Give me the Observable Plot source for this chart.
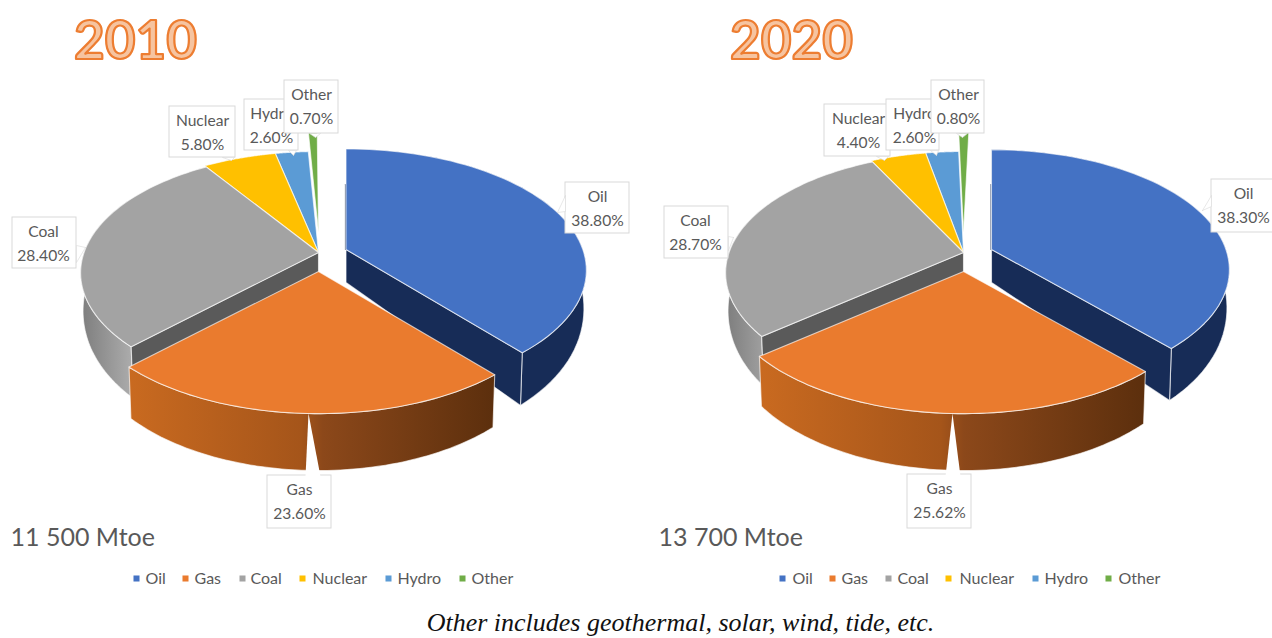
<!DOCTYPE html>
<html>
<head>
<meta charset="utf-8">
<script src="https://cdn.jsdelivr.net/npm/d3@7"></script>
<script src="https://cdn.jsdelivr.net/npm/@observablehq/plot@0.6"></script>
<style>
  html, body { margin: 0; padding: 0; background: #fff; }
  svg { display: block; }
</style>
</head>
<body>
<div id="chart"></div>
<script>
// Primary energy mix, share of world supply by source (%)
const categories = ["Oil", "Gas", "Coal", "Nuclear", "Hydro", "Other"];
const share2010 = [38.8, 23.6, 28.4, 5.8, 2.6, 0.7];
const share2020 = [38.3, 25.62, 28.7, 4.4, 2.6, 0.8];
const years = ["2010", "2020"];
const totals = ["11 500 Mtoe", "13 700 Mtoe"];
const footnote = "Other includes geothermal, solar, wind, tide, etc.";

const topColors = { Oil: "#4472c4", Gas: "#ea7b2e", Coal: "#a3a3a3", Nuclear: "#ffc000", Hydro: "#5b9bd5", Other: "#70ad47" };
const FONT = "Lato, 'Open Sans', sans-serif";
const INK = "#595959";

// Tilted-disc camera: radius, flattening and perspective strength
const R = 238, RY = 118.4, P = 0.172;

// Per-panel layout: disc centre, slice offsets and radii, label boxes [x1, y1, x2, y2, textX], callout tips
const panels = [
  {
    values: share2010, year: 0, cx: 318, cy: 252, titleX: 135, totalX: 10,
    offset: { Oil: [27.5, -3], Gas: [0, 19], Other: [0, -20] },
    radius: { Oil: 0.995, Gas: 0.995, Coal: 0.985 },
    legend: { squares: [136, 185, 242, 302, 388, 462], texts: [145, 194, 250, 312, 397, 471] },
    labels: {
      Oil: [565, 182, 629, 233, 597], Gas: [267, 475, 331, 528, 299], Coal: [12, 217, 76, 268, 43],
      Nuclear: [169, 106, 235, 157, 202], Hydro: [244, 99, 298, 150, 271], Other: [284, 80, 338, 133, 311]
    },
    tips: {
      Oil: [[557, 212], [565, 195], [565, 211]], Gas: [[308, 413], [305, 476], [320, 476]], Coal: [[85, 247], [76, 245], [76, 262]],
      Nuclear: [[231, 160], [222, 157], [234, 157]], Hydro: [[293, 155], [288, 150], [296, 150]], Other: [[315, 137], [309, 133], [320, 133]]
    }
  },
  {
    values: share2020, year: 1, cx: 963, cy: 252, titleX: 791, totalX: 658,
    offset: { Oil: [28, -3], Gas: [0, 19], Other: [0, -20] },
    radius: { Oil: 0.985, Gas: 0.995, Coal: 0.985 },
    legend: { squares: [782, 832, 888, 948, 1035, 1108], texts: [792, 841, 897, 959, 1044, 1118] },
    labels: {
      Oil: [1211, 179, 1276, 232, 1243], Gas: [907, 474, 971, 528, 939], Coal: [664, 206, 728, 258, 695],
      Nuclear: [824, 104, 890, 156, 858], Hydro: [886, 99, 939, 150, 914], Other: [931, 80, 984, 133, 958]
    },
    tips: {
      Oil: [[1202, 210], [1211, 195], [1211, 206]], Gas: [[952, 413], [945, 476], [960, 476]], Coal: [[733, 237], [728, 236], [728, 250]],
      Nuclear: [[884, 160], [876, 156], [888, 156]], Hydro: [[936, 155], [930, 150], [938, 150]], Other: [[962, 137], [956, 133], [967, 133]]
    }
  }
];

// Rim height grows toward the viewer
const rimHeight = Y => { const t = Math.max(0, Y); return 33 + 32 * t - 8 * t * t; };

// Project an angle (degrees clockwise from the top) and radius fraction onto the page
function project(cx, cy, deg, radius, drop) {
  const a = deg * Math.PI / 180;
  const X = Math.sin(a) * radius, Y = -Math.cos(a) * radius;
  const s = 1 / (1 - P * Y);
  const z = drop ? rimHeight(Y) : 0;
  const squeeze = drop ? 0.99 : 1;
  return [cx + R * X * s * squeeze, cy + RY * Y * s + z];
}

const arc = (s, a0, a1, drop) =>
  d3.range(65).map(i => project(s.cx, s.cy, a0 + (a1 - a0) * i / 64, s.r, drop));

const polygon = (points, options) =>
  Plot.line([...points, points[0]], {
    x: d => d[0], y: d => d[1], curve: "linear", strokeLinejoin: "round", ...options
  });

// Gradient paints for the lit rims
function gradientDefs() {
  const defs = d3.create("svg:defs");
  const add = (id, stops) => {
    const g = defs.append("linearGradient").attr("id", id).attr("x1", 0).attr("x2", 1).attr("y1", 0).attr("y2", 0);
    stops.forEach(([o, c]) => g.append("stop").attr("offset", o).attr("stop-color", c));
  };
  add("gasRim", [[0, "#c96a20"], [0.47, "#a5551a"], [0.53, "#8c481a"], [1, "#5c2f0d"]]);
  add("coalRim", [[0, "#7d7d7d"], [1, "#adadad"]]);
  return defs.node();
}

const marks = [() => gradientDefs()];
const seam = { stroke: "#ffffff", strokeOpacity: 0.65, strokeWidth: 1.1 };

for (const panel of panels) {
  const { values, cx, cy, offset, radius } = panel;
  // Cumulative angle of every slice
  const slices = {};
  let sum = 0;
  categories.forEach((c, i) => {
    const [dx, dy] = offset[c] || [0, 0];
    slices[c] = { a0: sum * 3.6, a1: (sum + values[i]) * 3.6, cx: cx + dx, cy: cy + dy, r: radius[c] || 1 };
    sum += values[i];
  });

  const top = c => {
    const s = slices[c];
    return polygon([[s.cx, s.cy], ...arc(s, s.a0, s.a1, false)], { fill: topColors[c], ...seam });
  };
  const rim = (c, a0, a1, fill) => {
    const s = slices[c];
    return polygon([...arc(s, a0, a1, false), ...arc(s, a0, a1, true).reverse()], { fill, ...seam });
  };
  const wall = (c, deg, fill) => {
    const s = slices[c];
    const h0 = rimHeight(0);
    return polygon([
      [s.cx, s.cy], project(s.cx, s.cy, deg, s.r, false), project(s.cx, s.cy, deg, s.r, true), [s.cx, s.cy + h0]
    ], { fill, ...seam });
  };
  const oil = slices.Oil;

  marks.push(
    top("Other"), top("Hydro"), top("Nuclear"),
    rim("Coal", slices.Coal.a0, 300, "url(#coalRim)"),
    wall("Coal", slices.Coal.a0, "#5a5a5a"),
    top("Coal"),
    rim("Oil", oil.a0, oil.a1, "#172c57"),
    wall("Oil", oil.a1, "#172c57"),
    // Sliver of the back wall along the slice's straight edge
    Plot.line([[oil.cx - 0.5, oil.cy - 65], [oil.cx - 0.5, oil.cy]], {
      x: d => d[0], y: d => d[1], stroke: "#172c57", strokeOpacity: 0.7, strokeWidth: 1.2
    }),
    top("Oil"),
    rim("Gas", slices.Gas.a0, slices.Gas.a1, "url(#gasRim)"),
    top("Gas")
  );

  // Data labels, later ones overlapping earlier ones
  for (const c of ["Oil", "Coal", "Nuclear", "Hydro", "Other", "Gas"]) {
    const [x1, y1, x2, y2, tx] = panel.labels[c];
    const value = values[categories.indexOf(c)];
    marks.push(
      Plot.rect([{ x1, y1, x2, y2 }], { x1: "x1", x2: "x2", y1: "y1", y2: "y2", fill: "#ffffff", stroke: "#d9d9d9", strokeWidth: 1 }),
      polygon(panel.tips[c], { fill: "#ffffff", stroke: c === "Gas" ? "none" : "#d9d9d9", strokeWidth: 0.6 }),
      Plot.text([c], { x: tx, y: y1 + 14.5, text: d => d, fill: INK, fontSize: 15.6, fontFamily: FONT, lineAnchor: "middle" }),
      Plot.text([`${value.toFixed(2)}%`], { x: tx, y: y1 + 38, text: d => d, fill: INK, fontSize: 15.6, fontFamily: FONT, lineAnchor: "middle" })
    );
  }

  // Year heading, total supply and legend
  marks.push(
    Plot.text([years[panel.year]], {
      x: panel.titleX, y: 42, text: d => d, fontFamily: FONT, fontWeight: 700, fontSize: 53,
      fill: "#f6c4a0", stroke: "#ed7d31", strokeWidth: 2.2, paintOrder: "normal", lineAnchor: "middle"
    }),
    Plot.text([totals[panel.year]], {
      x: panel.totalX, y: 537, text: d => d, fontFamily: FONT, fontSize: 25, fill: INK, textAnchor: "start", lineAnchor: "middle"
    }),
    Plot.dot(categories, {
      x: (d, i) => panel.legend.squares[i], y: 578, symbol: "square", r: 3.4, fill: d => topColors[d]
    }),
    Plot.text(categories, {
      x: (d, i) => panel.legend.texts[i], y: 578, text: d => d, fontFamily: FONT, fontSize: 16, fill: INK, textAnchor: "start", lineAnchor: "middle"
    })
  );
}

marks.push(
  Plot.text([footnote], {
    x: 680, y: 622, text: d => d, fontFamily: "'Liberation Serif', serif", fontStyle: "italic", fontSize: 26, fill: "#111111", lineAnchor: "middle"
  })
);

const chart = Plot.plot({
  width: 1272, height: 638, margin: 0,
  x: { domain: [0, 1272], range: [0, 1272], axis: null },
  y: { domain: [0, 638], range: [0, 638], axis: null },
  style: { background: "#ffffff" },
  marks
});
document.getElementById("chart").append(chart);
</script>
</body>
</html>
